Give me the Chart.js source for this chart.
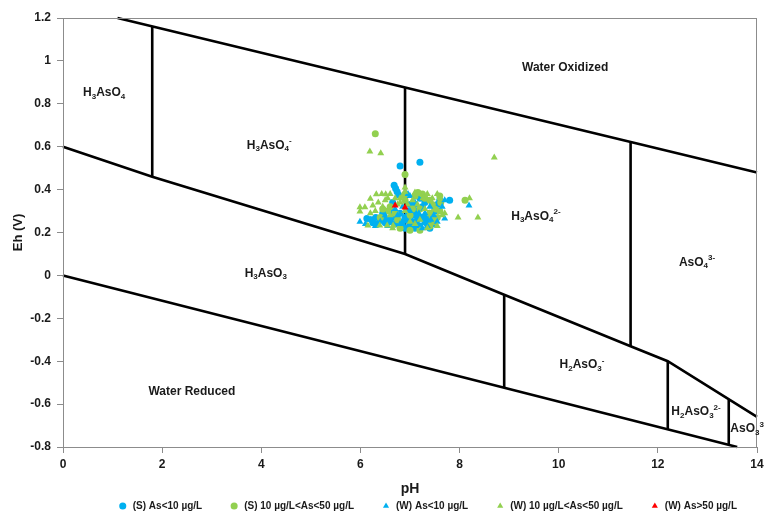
<!DOCTYPE html>
<html>
<head>
<meta charset="utf-8">
<script src="https://cdn.jsdelivr.net/npm/chart.js@4.4.1/dist/chart.umd.min.js"></script>
<style>
  html, body { margin: 0; padding: 0; background: #ffffff; }
  #wrap { width: 764px; height: 521px; position: relative; }
</style>
</head>
<body>
<div id="wrap"><canvas id="c" width="764" height="521"></canvas></div>
<script>
// ---------- tick labels ----------
const xTickLabels = ['0', '2', '4', '6', '8', '10', '12', '14'];
const yTickLabels = ['-0.8', '-0.6', '-0.4', '-0.2', '0', '0.2', '0.4', '0.6', '0.8', '1', '1.2'];

// ---------- stability-field boundaries (pH, Eh) ----------
const waterOxidizedLine = [[1.1, 1.2], [14, 0.48]];
const waterReducedLine = [[0, 0], [13.6, -0.8]];
const redoxLine = [[0, 0.6], [1.8, 0.46], [6.9, 0.1], [8.9, -0.09], [11.45, -0.33], [12.2, -0.4], [14, -0.66]];
const vLine1 = [[1.8, 1.161], [1.8, 0.46]];
const vLine2 = [[6.9, 0.876], [6.9, 0.1]];
const vLine3 = [[11.45, 0.622], [11.45, -0.33]];
const vLine4 = [[8.9, -0.09], [8.9, -0.523]];
const vLine5 = [[12.2, -0.4], [12.2, -0.717]];
const vLine6 = [[13.43, -0.578], [13.43, -0.79]];

// ---------- field labels (text, pH, Eh) ----------
const fieldLabels = [
  ['Water Oxidized', 10.13, 0.97],
  ['H_3AsO_4', 0.83, 0.85],
  ['H_3AsO_4^-', 4.16, 0.607],
  ['H_3AsO_4^2-', 9.54, 0.275],
  ['AsO_4^3-', 12.79, 0.06],
  ['H_3AsO_3', 4.09, 0.008],
  ['Water Reduced', 2.6, -0.543],
  ['H_2AsO_3^-', 10.47, -0.417],
  ['H_2AsO_3^2-', 12.77, -0.636],
  ['AsO_3^3', 13.8, -0.716]
];

// ---------- samples (pH, Eh) ----------
const sLow = [ // (S) As<10 µg/L
  [6.80, 0.51], [7.20, 0.527], [6.68, 0.42], [6.71, 0.405], [6.74, 0.39], [6.77, 0.375],
  [6.13, 0.265], [6.23, 0.26], [6.31, 0.27], [6.44, 0.265], [6.54, 0.26], [6.64, 0.27], [6.74, 0.265],
  [6.35, 0.24], [6.50, 0.245], [6.60, 0.25], [6.70, 0.24], [6.85, 0.25], [6.95, 0.26], [7.00, 0.24],
  [7.05, 0.28], [7.10, 0.30], [7.15, 0.26], [7.20, 0.23], [7.25, 0.32], [7.30, 0.25], [7.35, 0.27],
  [7.40, 0.29], [7.45, 0.24], [7.50, 0.30], [7.55, 0.33], [7.60, 0.35], [7.00, 0.33], [6.95, 0.30],
  [6.90, 0.22], [7.10, 0.22], [6.65, 0.34], [6.80, 0.29], [6.60, 0.30], [6.45, 0.29], [7.30, 0.34],
  [7.20, 0.36], [7.80, 0.35], [7.40, 0.22], [6.25, 0.245], [7.05, 0.25], [7.15, 0.28], [6.90, 0.27],
  [7.25, 0.27], [7.35, 0.24], [6.85, 0.23], [6.40, 0.26], [7.10, 0.33], [7.00, 0.22]
];
const sMid = [ // (S) 10 µg/L<As<50 µg/L
  [6.30, 0.66], [6.90, 0.47], [8.11, 0.35], [7.16, 0.387], [7.10, 0.37], [7.60, 0.37], [7.40, 0.35],
  [7.45, 0.33], [7.50, 0.31], [7.40, 0.29], [7.45, 0.27], [7.50, 0.25], [7.40, 0.23], [6.90, 0.38],
  [6.90, 0.35], [7.25, 0.38], [7.30, 0.36], [6.60, 0.32], [6.70, 0.29], [6.55, 0.30], [6.45, 0.31],
  [7.60, 0.30], [7.62, 0.34], [7.00, 0.21], [7.20, 0.21], [6.80, 0.22], [6.40, 0.27], [7.00, 0.28],
  [7.05, 0.31], [7.20, 0.31], [6.75, 0.26], [7.55, 0.27]
];
const wLow = [ // (W) As<10 µg/L
  [5.99, 0.25], [6.10, 0.24], [6.20, 0.26], [6.40, 0.25], [6.55, 0.23], [6.75, 0.28], [6.85, 0.32],
  [6.96, 0.38], [7.00, 0.37], [7.05, 0.25], [7.12, 0.23], [7.18, 0.29], [7.22, 0.27], [7.28, 0.31],
  [7.35, 0.23], [7.42, 0.26], [7.48, 0.28], [7.55, 0.25], [7.70, 0.35], [7.70, 0.265], [8.19, 0.326],
  [7.65, 0.32], [6.90, 0.27], [6.70, 0.31], [7.10, 0.34], [6.50, 0.28], [6.30, 0.23], [7.30, 0.29],
  [7.00, 0.30], [6.60, 0.26], [7.15, 0.24], [7.40, 0.32], [6.80, 0.24], [7.25, 0.22]
];
const wMid = [ // (W) 10 µg/L<As<50 µg/L
  [6.19, 0.578], [6.41, 0.57], [8.70, 0.55], [6.20, 0.357], [6.32, 0.378], [6.43, 0.38], [6.51, 0.378],
  [6.60, 0.38], [5.99, 0.318], [6.09, 0.318], [5.99, 0.298], [6.25, 0.326], [6.36, 0.34], [6.15, 0.233],
  [6.39, 0.233], [6.54, 0.233], [6.66, 0.233], [6.80, 0.36], [6.80, 0.34], [6.85, 0.37], [7.10, 0.387],
  [7.26, 0.36], [7.60, 0.36], [7.70, 0.29], [7.97, 0.27], [8.37, 0.27], [8.20, 0.36], [6.90, 0.39],
  [6.90, 0.41], [6.50, 0.35], [6.70, 0.36], [6.45, 0.32], [6.30, 0.30], [6.20, 0.29], [6.75, 0.33],
  [7.05, 0.35], [7.15, 0.33], [7.35, 0.38], [7.45, 0.36], [7.55, 0.38], [7.30, 0.31], [7.20, 0.26],
  [7.00, 0.25], [6.60, 0.28], [6.90, 0.30], [7.10, 0.24], [7.55, 0.23], [7.35, 0.22], [6.65, 0.22],
  [7.65, 0.28], [6.55, 0.36], [6.95, 0.33]
];
const wHigh = [ // (W) As>50 µg/L
  [6.70, 0.326], [6.90, 0.317]
];

// ---------- build chart ----------
const toXY = arr => arr.map(p => ({ x: p[0], y: p[1] }));
const FONT = '"Liberation Sans", Arial, sans-serif';

function pointSet(label, arr, color, style, radius, order) {
  return {
    label: label, data: toXY(arr), showLine: false,
    pointStyle: style, pointRadius: radius, pointHoverRadius: radius,
    backgroundColor: color, borderColor: color, borderWidth: 0, order: order
  };
}
function lineSet(arr) {
  return {
    label: '__line', data: toXY(arr), showLine: true, pointRadius: 0,
    borderColor: '#000000', borderWidth: 2.6, fill: false, order: 10, clip: false
  };
}

const datasets = [
  pointSet('(S) As<10 µg/L', sLow, '#00B0F0', 'circle', 3.5, 4),
  pointSet('(S) 10 µg/L<As<50 µg/L', sMid, '#92D050', 'circle', 3.5, 3),
  pointSet('(W) As<10 µg/L', wLow, '#00B0F0', 'triangle', 4, 2),
  pointSet('(W) 10 µg/L<As<50 µg/L', wMid, '#92D050', 'triangle', 4, 1),
  pointSet('(W) As>50 µg/L', wHigh, '#FF0000', 'triangle', 4, 0),
  lineSet(waterOxidizedLine), lineSet(waterReducedLine), lineSet(redoxLine),
  lineSet(vLine1), lineSet(vLine2), lineSet(vLine3), lineSet(vLine4), lineSet(vLine5), lineSet(vLine6)
];

// field label plugin (sub/superscripts)
function parseLabel(s) {
  const parts = [];
  let buf = '';
  for (let i = 0; i < s.length; i++) {
    const ch = s[i];
    if (ch === '_') {
      if (buf) { parts.push({ t: buf, k: 'n' }); buf = ''; }
      parts.push({ t: s[i + 1], k: 'sub' }); i++;
    } else if (ch === '^') {
      if (buf) { parts.push({ t: buf, k: 'n' }); buf = ''; }
      parts.push({ t: s.slice(i + 1), k: 'sup' }); break;
    } else buf += ch;
  }
  if (buf) parts.push({ t: buf, k: 'n' });
  return parts;
}
const fieldLabelPlugin = {
  id: 'fieldLabels',
  afterDatasetsDraw(chart) {
    const { ctx, scales: { x, y }, chartArea } = chart;
    ctx.save();
    // plot border
    ctx.strokeStyle = '#8c8c8c';
    ctx.lineWidth = 1;
    ctx.strokeRect(chartArea.left + 0.5, chartArea.top + 0.5, chartArea.right - chartArea.left - 1, chartArea.bottom - chartArea.top);
    ctx.fillStyle = '#1a1a1a';
    ctx.textBaseline = 'middle';
    ctx.textAlign = 'left';
    fieldLabels.forEach(([txt, px, py]) => {
      const parts = parseLabel(txt);
      const fonts = { n: 'bold 12px ' + FONT, sub: 'bold 8px ' + FONT, sup: 'bold 8px ' + FONT };
      const dy = { n: 0, sub: 3.5, sup: -4.5 };
      let w = 0;
      parts.forEach(p => { ctx.font = fonts[p.k]; p.w = ctx.measureText(p.t).width; w += p.w; });
      let cx = x.getPixelForValue(px) - w / 2;
      const cy = y.getPixelForValue(py);
      parts.forEach(p => { ctx.font = fonts[p.k]; ctx.fillText(p.t, cx, cy + dy[p.k]); cx += p.w; });
    });
    ctx.restore();
  }
};

new Chart(document.getElementById('c'), {
  type: 'scatter',
  data: { datasets: datasets },
  plugins: [fieldLabelPlugin],
  options: {
    responsive: false,
    animation: false,
    devicePixelRatio: 1,
    layout: { padding: { top: 18, right: 0, left: 0, bottom: 0 } },
    plugins: {
      tooltip: { enabled: false },
      legend: {
        position: 'bottom',
        align: 'end',
        labels: {
          filter: item => item.text !== '__line',
          sort: (a, b) => a.datasetIndex - b.datasetIndex,
          usePointStyle: true,
          boxWidth: 10, boxHeight: 5,
          padding: 27,
          color: '#1a1a1a',
          font: { family: FONT, size: 10, weight: 'bold' }
        }
      }
    },
    scales: {
      x: {
        type: 'linear', min: 0, max: 14,
        afterFit: s => { s.height = 27; s.paddingRight = 7; s.paddingLeft = 0; },
        ticks: { stepSize: 2, padding: 4, color: '#1a1a1a', font: { family: FONT, size: 12, weight: 'bold' },
                 callback: (v, i) => xTickLabels[i] },
        grid: { display: true, drawOnChartArea: false, drawTicks: true, tickLength: 6, color: '#8c8c8c' },
        border: { display: true, color: '#8c8c8c' },
        title: { display: true, text: 'pH', color: '#1a1a1a', font: { family: FONT, size: 14, weight: 'bold' }, padding: { top: 0, bottom: -24 } }
      },
      y: {
        type: 'linear', min: -0.8, max: 1.2,
        afterFit: s => { s.width = 63; },
        ticks: { stepSize: 0.2, padding: 6, color: '#1a1a1a', font: { family: FONT, size: 12, weight: 'bold' },
                 callback: (v, i) => yTickLabels[i] },
        grid: { display: true, drawOnChartArea: false, drawTicks: true, tickLength: 6, color: '#8c8c8c' },
        border: { display: true, color: '#8c8c8c' },
        title: { display: true, text: 'Eh (V)', color: '#1a1a1a', font: { family: FONT, size: 13, weight: 'bold' }, padding: { top: 11, bottom: 11 } }
      }
    }
  }
});
</script>
</body>
</html>
